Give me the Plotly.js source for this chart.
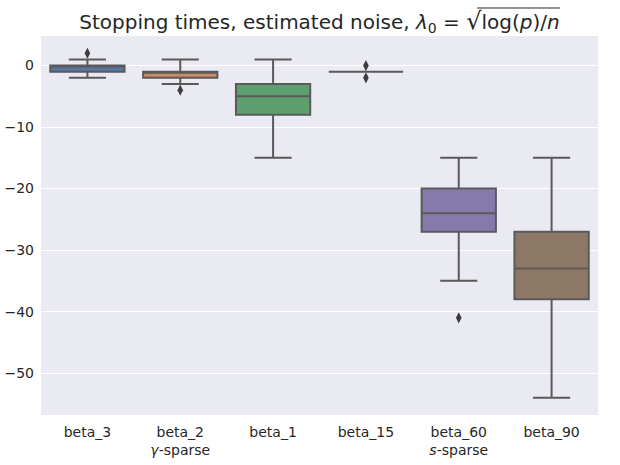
<!DOCTYPE html>
<html>
<head>
<meta charset="utf-8">
<script src="https://cdn.plot.ly/plotly-3.0.1.min.js"></script>
<style>html,body{margin:0;padding:0;background:#fff;}#chart{width:620px;height:465px;}</style>
</head>
<body>
<div id="chart"></div>
<script>
const categories = ["beta_3", "beta_2", "beta_1", "beta_15", "beta_60", "beta_90"];
const tickLabels = ["beta_3", "beta_2<br><i>γ</i>-sparse", "beta_1", "beta_15", "beta_60<br><i>s</i>-sparse", "beta_90"];
const q1Values = [-1, -2, -8, -1, -27, -38];
const medianValues = [0, -1, -5, -1, -24, -33];
const q3Values = [0, -1, -3, -1, -20, -27];
const lowerWhisker = [-2, -3, -15, -1, -35, -54];
const upperWhisker = [1, 1, 1, -1, -15, -15];
const outlierCats = ["beta_3", "beta_2", "beta_15", "beta_15", "beta_60"];
const outlierValues = [2, -4, 0, -2, -41];
const colors = ["#5875a4", "#cc8963", "#5f9e6e", "#b55d60", "#857aab", "#8d7866"];

const lineColor = "#5a5a5a";
const traces = categories.map((c, i) => ({
  type: "box",
  x: [c],
  q1: [q1Values[i]],
  median: [medianValues[i]],
  q3: [q3Values[i]],
  lowerfence: [lowerWhisker[i]],
  upperfence: [upperWhisker[i]],
  fillcolor: colors[i],
  line: {color: lineColor, width: 2},
  width: 0.8,
  whiskerwidth: 0.5,
  boxpoints: false,
  hoverinfo: "skip",
  showlegend: false
}));
traces.push({
  type: "scatter",
  mode: "markers",
  x: outlierCats,
  y: outlierValues,
  marker: {symbol: "diamond-tall", size: 8, color: "#3d3d3d"},
  showlegend: false,
  hoverinfo: "skip"
});

const layout = {
  width: 620, height: 465,
  margin: {l: 41, r: 22, t: 36, b: 50},
  paper_bgcolor: "#ffffff",
  plot_bgcolor: "#eaeaf2",
  font: {family: "DejaVu Sans", size: 14, color: "#262626"},
  title: {
    text: "Stopping times, estimated noise, <i>λ</i><sub>0</sub> = <span style=\"font-size:24px\">√</span>log(<i>p</i>)/<i>n</i>",
    font: {size: 20, color: "#262626"},
    x: 0.5, xref: "paper", xanchor: "center",
    y: 1 - 22 / 465, yref: "container", yanchor: "middle"
  },
  xaxis: {
    type: "category",
    categoryorder: "array",
    categoryarray: categories,
    tickvals: categories,
    ticktext: tickLabels,
    showgrid: false,
    zeroline: false,
    ticks: "",
    ticklabelstandoff: 7,
    range: [-0.5, 5.5],
    tickfont: {size: 14}
  },
  yaxis: {
    range: [-56.8, 4.8],
    tickvals: [0, -10, -20, -30, -40, -50],
    ticktext: ["0", "−10", "−20", "−30", "−40", "−50"],
    gridcolor: "#ffffff",
    gridwidth: 1,
    zeroline: false,
    ticks: "",
    ticklabelstandoff: 6,
    tickfont: {size: 14}
  },
  shapes: [{
    type: "line", xref: "paper", yref: "paper",
    x0: 0.783, x1: 0.932, y0: 1.0739, y1: 1.0739,
    line: {color: "#262626", width: 1}
  }]
};
Plotly.newPlot("chart", traces, layout, {displayModeBar: false, staticPlot: true});
</script>
</body>
</html>
